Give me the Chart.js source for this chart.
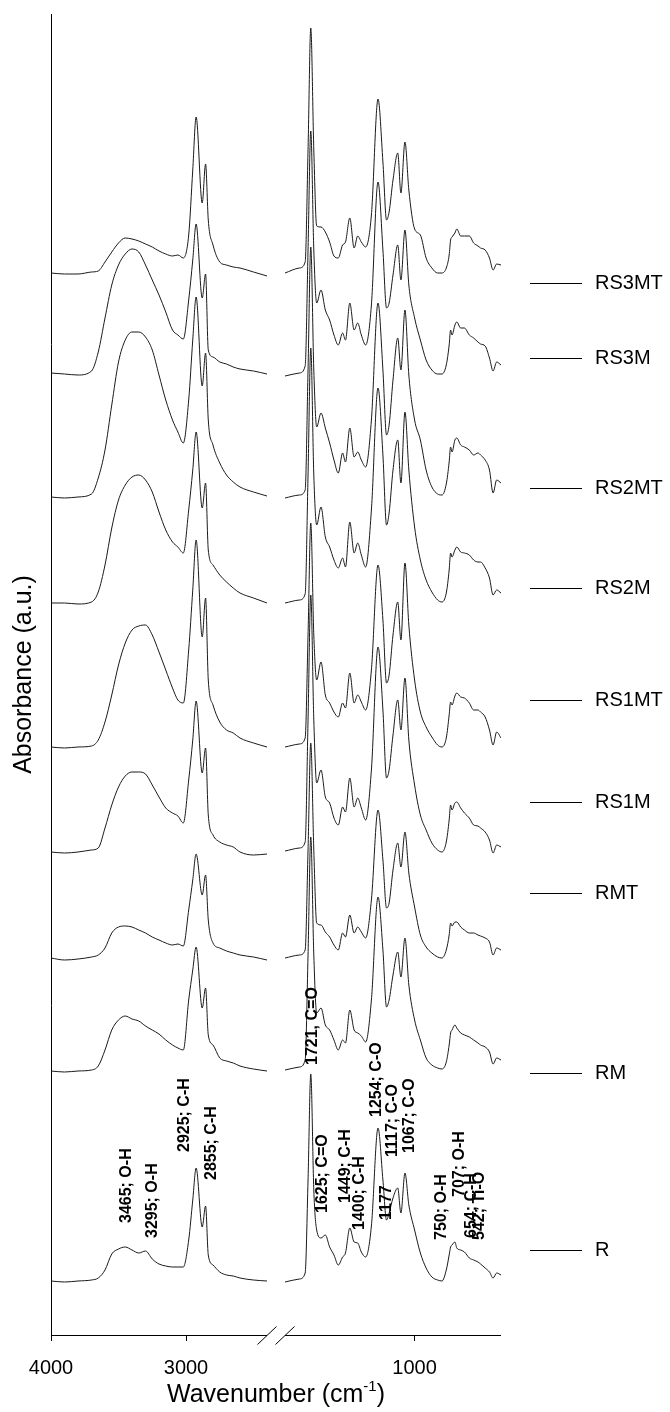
<!DOCTYPE html>
<html>
<head>
<meta charset="utf-8">
<script src="https://cdn.jsdelivr.net/npm/chart.js@4/dist/chart.umd.min.js"></script>
<style>
  html, body { margin: 0; padding: 0; background: #fff; }
  canvas { display: block; }
</style>
</head>
<body>
<canvas id="ftir" width="670" height="1412"></canvas>
<script>
// wavenumbers (cm-1) of the two halves of the broken axis
const wnHigh = [4000,3900,3800,3700,3650,3600,3550,3500,3450,3400,3350,3300,3250,3200,3150,3100,3060,3020,2980,2950,2925,2880,2855,2835,2800,2750,2700,2650,2600,2500,2400];
const wnLow = [1900,1800,1760,1740,1721,1700,1680,1650,1620,1590,1560,1530,1500,1480,1450,1420,1395,1370,1340,1300,1254,1220,1195,1177,1150,1117,1095,1067,1040,1000,960,920,880,840,810,780,760,750,740,720,707,680,654,620,590,560,542,510,480,455,430,400];
const xTicks = [4000, 3000, 1000];

const sampleNames = ['RS3MT','RS3M','RS2MT','RS2M','RS1MT','RS1M','RMT','RM','R'];
// vertical stacking offset of each spectrum (a.u.)
const stackOffsets = [1062, 960, 838, 732, 588, 483, 377, 264, 54];
// height of each name marker on the right (a.u.)
const nameLevels = [1052, 977, 847, 747, 635, 533, 442, 262, 85];

// absorbance above baseline: first wnHigh.length values, then wnLow values
const specRS3MT = [0,-1,-1,1,2,11,21,30,35,34,32,29,26,22,19,17,18,15,38,103,156,70,109,53,28,11,8,6,5,1,-3,
  0,5,11,123,245,123,47,46,41,31,17,15,28,31,55,25,37,31,26,58,174,111,53,61,93,120,80,131,83,44,38,15,5,0,0,5,18,33,36,40,44,37,37,37,30,27,25,23,15,3,9,8];
const specRS3M = [2,1,0,4,23,57,90,110,121,126,123,110,95,80,63,45,40,36,75,115,151,77,101,25,18,13,11,8,6,4,1,
  -1,2,9,125,244,125,72,85,65,55,40,30,42,35,72,45,52,40,30,70,193,125,67,72,100,130,95,145,90,57,35,15,5,1,1,10,30,45,40,50,53,47,47,40,37,33,31,29,17,4,13,10];
const specRS2MT = [0,-1,0,3,19,47,92,135,157,165,165,160,147,122,97,77,65,54,97,157,200,111,144,77,52,34,22,15,10,5,1,
  -1,2,7,127,250,127,70,84,69,54,37,24,44,35,69,40,45,37,30,77,194,127,62,72,117,159,127,187,122,77,57,27,10,3,2,13,35,50,45,57,59,52,50,47,42,44,42,37,27,4,17,14];
const specRS2M = [0,0,-1,1,11,38,75,103,118,126,128,123,111,91,73,61,56,50,93,133,171,95,120,53,38,28,21,15,10,5,0,
  0,3,9,128,255,128,78,96,66,56,43,35,45,36,81,50,60,48,36,93,215,148,78,90,133,163,120,191,133,76,43,23,11,3,1,10,33,50,46,53,56,51,50,48,43,41,41,35,25,8,13,10];
const specRS1MT = [0,-1,0,1,7,25,52,82,104,117,121,122,112,95,77,59,47,44,97,157,207,110,149,67,42,25,17,14,9,4,0,
  0,3,9,112,224,112,67,85,52,44,35,30,44,39,74,44,52,45,37,77,182,127,64,72,112,145,107,184,122,67,35,20,10,2,0,9,32,45,42,51,54,50,49,44,37,37,35,30,17,2,15,9];
const specRS1M = [0,-1,0,2,4,24,47,65,76,80,80,78,67,55,44,39,36,29,72,112,151,79,104,37,17,10,7,5,0,-3,-2,
  1,4,10,132,257,132,69,82,55,49,34,27,45,40,74,45,54,44,32,82,205,142,74,82,117,152,122,174,112,67,37,22,9,2,0,10,32,47,42,49,50,44,39,34,27,26,24,20,12,-1,7,5];
const specRMT = [0,-2,-1,1,3,10,25,31,32,31,28,25,21,18,15,13,14,12,48,78,104,63,83,38,15,10,7,5,3,1,-2,
  0,3,8,108,215,108,35,33,26,21,13,8,25,21,43,25,31,26,20,58,148,98,50,55,88,115,91,126,85,51,23,11,5,1,0,8,23,35,32,36,36,31,28,25,25,23,22,20,16,3,10,8];
const specRM = [0,-1,0,1,5,21,41,51,55,52,50,45,41,37,31,26,23,21,71,101,124,63,83,36,26,13,10,8,5,2,0,
  1,4,11,116,234,116,58,63,46,41,31,21,31,28,61,41,38,35,29,71,174,121,64,71,96,119,94,133,86,51,31,13,6,3,2,9,26,38,41,46,43,38,36,34,31,28,26,24,19,7,13,11];
const specR = [0,-1,0,1,3,11,27,32,34,31,28,30,22,17,15,14,14,14,41,81,113,54,75,26,16,9,6,5,3,1,0,
  -1,2,8,101,207,91,51,43,46,34,26,16,24,28,53,39,38,29,24,55,153,101,61,68,83,93,68,108,76,51,28,13,4,1,0,11,26,34,36,39,33,31,29,23,21,19,17,13,9,3,8,6];

// band assignments written over the R spectrum
const peakText = ['3465; O-H','3295; O-H','2925; C-H','2855; C-H','1721, C=O','1625; C=O','1449; C-H','1400; C-H','1254; C-O','1177','1117; C-O','1067; C-O','750; O-H','707; O-H','654; C-H','542; Ti-O'];
const peakTextX = [3437,3244,3007,2807,1706,1636,1476,1379,1261,1192,1150,1032,810,685,601,546];
const peakTextY = [112,97,183,155,270,122,132,105,218,115,178,182,95,138,97,95];

const spectra = [specRS3MT, specRS3M, specRS2MT, specRS2M, specRS1MT, specRS1M, specRMT, specRM, specR];

const FONT = '"Liberation Sans", Arial, sans-serif';
const HIGH_END = 0.48, LOW_START = 0.52;   // share of axis width for each half

// linear axis with a break between the two wavenumber windows
class BrokenAxis extends Chart.LinearScale {
  getPixelForValue(v) {
    const h0 = wnHigh[0], h1 = wnHigh[wnHigh.length - 1];
    const l0 = wnLow[0], l1 = wnLow[wnLow.length - 1];
    let f;
    if (v >= (h1 + l0) / 2) f = (h0 - v) / (h0 - h1) * HIGH_END;
    else f = LOW_START + (l0 - v) / (l0 - l1) * (1 - LOW_START);
    return this.left + f * this.width;
  }
  getValueForPixel(p) {
    const f = (p - this.left) / this.width;
    const h0 = wnHigh[0], h1 = wnHigh[wnHigh.length - 1];
    const l0 = wnLow[0], l1 = wnLow[wnLow.length - 1];
    if (f <= 0.5) return h0 - f / HIGH_END * (h0 - h1);
    return l0 - (f - LOW_START) / (1 - LOW_START) * (l0 - l1);
  }
}
BrokenAxis.id = 'broken';
BrokenAxis.defaults = Chart.LinearScale.defaults;
Chart.register(BrokenAxis);

const wnAll = wnHigh.concat([(wnHigh[wnHigh.length - 1] + wnLow[0]) / 2], wnLow);
const datasets = spectra.map((s, k) => {
  const vals = s.slice(0, wnHigh.length).concat([null], s.slice(wnHigh.length));
  return {
    label: sampleNames[k],
    data: wnAll.map((w, i) => ({ x: w, y: vals[i] === null ? null : stackOffsets[k] + vals[i] })),
    borderColor: '#1a1a1a',
    borderWidth: 1,
    pointRadius: 0,
    cubicInterpolationMode: 'monotone',
    spanGaps: false
  };
});

const decorations = {
  id: 'decorations',
  afterDraw(chart) {
    const { ctx, chartArea: ca, scales: { x, y } } = chart;
    ctx.save();
    ctx.strokeStyle = '#000';
    ctx.lineWidth = 1;
    // x axis line in two pieces plus the // break marks
    const b = Math.round(ca.bottom) + 0.5;
    const xa = x.getPixelForValue(wnHigh[0]), xb = x.getPixelForValue(wnHigh[wnHigh.length - 1]);
    const xc = x.getPixelForValue(wnLow[0]), xd = x.getPixelForValue(wnLow[wnLow.length - 1]);
    ctx.beginPath();
    ctx.moveTo(xa, b); ctx.lineTo(xb, b);
    ctx.moveTo(xc, b); ctx.lineTo(xd, b);
    [xb, xc].forEach(px => { ctx.moveTo(px - 9.5, b + 9); ctx.lineTo(px + 9.5, b - 9); });
    ctx.stroke();

    // sample names on the right
    ctx.font = '20px ' + FONT;
    ctx.fillStyle = '#000';
    ctx.textBaseline = 'middle';
    ctx.textAlign = 'left';
    sampleNames.forEach((n, i) => {
      const py = Math.round(y.getPixelForValue(nameLevels[i])) + 0.5;
      ctx.beginPath();
      ctx.moveTo(ca.right + 29, py); ctx.lineTo(ca.right + 81, py);
      ctx.stroke();
      ctx.fillText(n, ca.right + 94, py);
    });

    // band labels, rotated
    ctx.font = 'bold 16px ' + FONT;
    peakText.forEach((t, i) => {
      ctx.save();
      ctx.translate(x.getPixelForValue(peakTextX[i]), y.getPixelForValue(peakTextY[i]));
      ctx.rotate(-Math.PI / 2);
      ctx.fillText(t, 0, 0);
      ctx.restore();
    });

    // x title with superscript
    const main = 'Wavenumber (cm', sup = '-1', tail = ')';
    ctx.font = '25px ' + FONT;
    const wMain = ctx.measureText(main).width, wTail = ctx.measureText(tail).width;
    ctx.font = '15px ' + FONT;
    const wSup = ctx.measureText(sup).width;
    let tx = (ca.left + ca.right) / 2 - (wMain + wSup + wTail) / 2;
    const ty = 1393;
    ctx.textBaseline = 'alphabetic';
    ctx.font = '25px ' + FONT;
    ctx.fillText(main, tx, ty + 9);
    tx += wMain;
    ctx.font = '15px ' + FONT;
    ctx.fillText(sup, tx, ty - 2);
    tx += wSup;
    ctx.font = '25px ' + FONT;
    ctx.fillText(tail, tx, ty + 9);
    ctx.restore();
  }
};

new Chart(document.getElementById('ftir'), {
  type: 'line',
  data: { datasets },
  options: {
    responsive: false,
    animation: false,
    devicePixelRatio: 1,
    layout: { padding: { top: 14, right: 169, left: 0, bottom: 0 } },
    plugins: { legend: { display: false }, tooltip: { enabled: false } },
    scales: {
      x: {
        type: 'broken',
        min: 400,
        max: 4000,
        afterFit: s => { s.height = 77; },
        afterBuildTicks: s => { s.ticks = xTicks.map(v => ({ value: v })); },
        grid: { display: true, drawOnChartArea: false, drawTicks: true, tickLength: 6, color: '#000' },
        border: { display: false },
        ticks: { color: '#000', font: { family: FONT, size: 20 }, padding: 15, maxRotation: 0, autoSkip: false, callback: v => String(v) }
      },
      y: {
        min: 0,
        max: 1321,
        afterFit: s => { s.width = 51; },
        grid: { display: false },
        border: { display: true, color: '#000', width: 1 },
        ticks: { display: false },
        title: { display: true, text: 'Absorbance (a.u.)', color: '#000', font: { family: FONT, size: 25 }, padding: { top: 9, bottom: 0 } }
      }
    }
  },
  plugins: [decorations]
});
</script>
</body>
</html>
